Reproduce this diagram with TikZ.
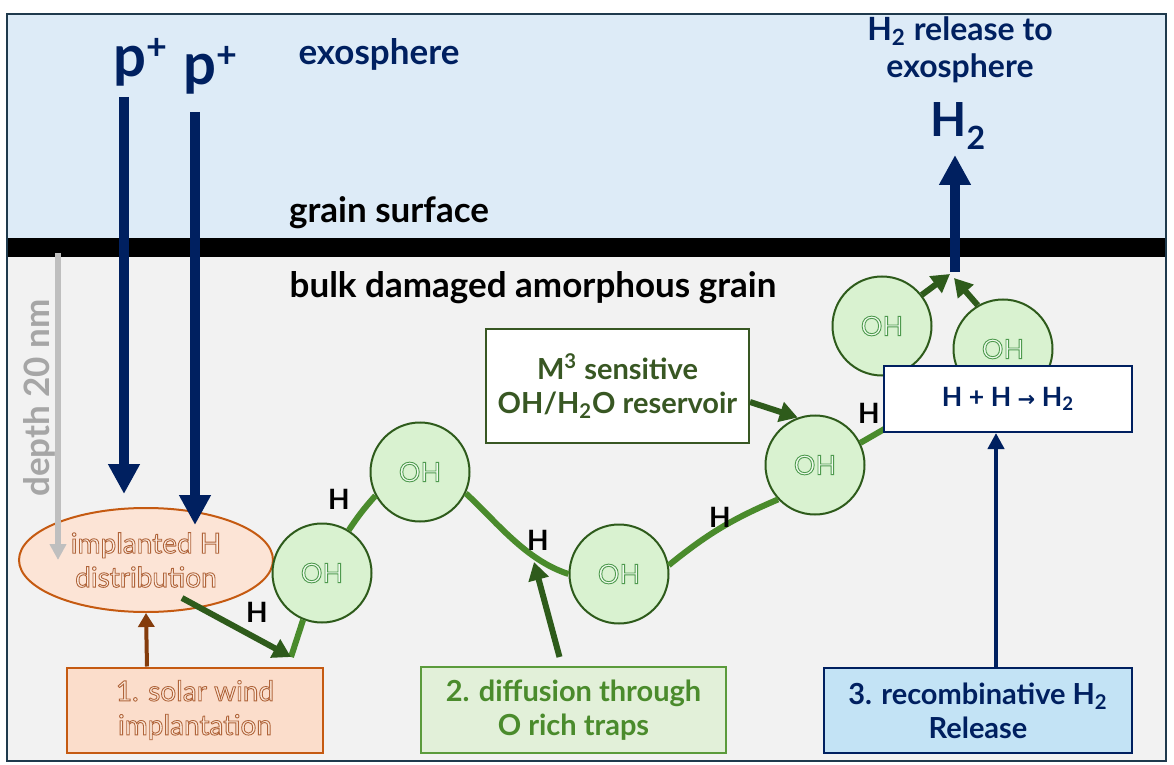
\documentclass[tikz,border=0pt]{standalone}
\usepackage{fontspec}
\setmainfont{Lato}
\newfontfamily\arrowfont{DejaVu Sans}
\usetikzlibrary{arrows.meta,shapes.geometric}
\definecolor{navy}{HTML}{002060}
\definecolor{exobg}{HTML}{DDEBF7}
\definecolor{bulkbg}{HTML}{F2F2F2}
\definecolor{framecol}{HTML}{1F3A4D}
\definecolor{orng}{HTML}{C55A11}
\definecolor{ellfill}{HTML}{FCE4D6}
\definecolor{b1fill}{HTML}{FBDDCB}
\definecolor{brwn}{HTML}{843C0C}
\definecolor{brtext}{HTML}{B0643A}
\definecolor{dkgreen}{HTML}{2E5B1B}
\definecolor{glinec}{HTML}{4A8B2C}
\definecolor{ohfill}{HTML}{D9F2D0}
\definecolor{ohtext}{HTML}{4E9A4E}
\definecolor{mgreen}{HTML}{385723}
\definecolor{b2fill}{HTML}{E2F0D9}
\definecolor{b2border}{HTML}{5B9B3C}
\definecolor{b2text}{HTML}{4A8B2C}
\definecolor{b3fill}{HTML}{C3E3F5}
\definecolor{greyarrow}{HTML}{BFBFBF}
\definecolor{greytext}{HTML}{A6A6A6}
\newcommand{\hollow}[2]{\special{pdf:literal 2 Tr 0.45 w #1 rg}#2\special{pdf:literal 0 Tr}}
\tikzset{
  lbl/.style={font=\bfseries\fontsize{17.5}{21}\selectfont},
  ohc/.style={circle, draw=dkgreen, line width=1pt, fill=ohfill, minimum size=49.5pt, inner sep=0pt,
              font=\fontsize{13.5}{15}\selectfont, text=ohtext},
  hlab/.style={font=\bfseries\fontsize{14}{16}\selectfont, text=black},
  gline/.style={draw=glinec, line width=3pt},
  garrow/.style={draw=dkgreen, line width=3pt, -{Triangle[width=10pt,length=9pt]}},
  navyarrow/.style={draw=navy, line width=5pt, -{Triangle[width=15pt,length=15pt]}},
  boxtext/.style={font=\fontsize{14}{17}\selectfont, align=center, inner sep=0pt},
  boldbox/.style={font=\bfseries\fontsize{14.5}{17}\selectfont},
}
\begin{document}
\begin{tikzpicture}[x=0.5pt,y=-0.5pt]
\useasboundingbox (0,0) rectangle (1174,765);
% background layers
\fill[exobg] (7,14) rectangle (1166,238);
\fill[bulkbg] (7,257) rectangle (1166,761);
\fill[black] (7,238) rectangle (1166,257);
\draw[framecol, line width=1.25pt] (7,14) rectangle (1166,761);

% labels
\node[lbl, text=navy, anchor=base] (exo) at (379,65) {exosphere};
\node[lbl, anchor=base] (gs) at (389,223) {grain surface};
\node[lbl, anchor=base] (bulk) at (533,297) {bulk damaged amorphous grain};
\node[font=\bfseries\fontsize{16}{18.5}\selectfont, text=navy, align=center] (rel) at (960,50)
  {H\textsubscript{2} release to\\exosphere};

% protons
\node[font=\bfseries\fontsize{29}{30}\selectfont, text=navy, anchor=base west, inner sep=0pt] (p1) at (113,77)
  {p\raisebox{8.5pt}{\fontsize{18}{18}\selectfont +}};
\node[font=\bfseries\fontsize{29}{30}\selectfont, text=navy, anchor=base west, inner sep=0pt] (p2) at (183,85)
  {p\raisebox{8.5pt}{\fontsize{18}{18}\selectfont +}};
\coordinate (a1s) at (124,97);
\coordinate (a1e) at (124,494);
\coordinate (a2s) at (195,112);
\coordinate (a2e) at (195,525);

% H2 out
\node[font=\bfseries\fontsize{23.5}{26}\selectfont, text=navy, anchor=base west, inner sep=0pt] (h2) at (930,137)
  {H\raisebox{-6.5pt}{\fontsize{16}{16}\selectfont 2}};
\coordinate (h2base) at (955,272);
\coordinate (h2tip) at (955,155);
\coordinate (h2l) at (950,274);
\coordinate (h2r) at (954,278);

% implanted ellipse and box 1
\node[ellipse, draw=orng, line width=1pt, fill=ellfill, minimum width=127pt, minimum height=52pt,
      boxtext, text=brtext] (impl) at (146,560)
  {\hollow{0.99 0.93 0.89}{implanted H\\distribution}};
\node[draw=orng, line width=1pt, fill=b1fill, minimum width=128pt, minimum height=42.5pt,
      boxtext, text=brtext] (b1) at (195,710)
  {\hollow{0.99 0.91 0.85}{1. solar wind\\implantation}};

% depth
\coordinate (ds) at (58,253);
\coordinate (de) at (58,560);
\draw[draw=greyarrow, line width=2.8pt, -{Triangle[width=8pt,length=8pt]}] (ds) -- (de);
\node[font=\bfseries\fontsize{17.5}{20}\selectfont, text=greytext, rotate=90] (depth) at (39,398) {depth 20 nm};

% proton arrows (over band)
\draw[navyarrow] (a1s) -- (a1e);
\draw[navyarrow] (a2s) -- (a2e);

% OH circles
\node[ohc] (c1) at (322,573) {\hollow{0.94 0.98 0.93}{OH}};
\node[ohc] (c2) at (420,472) {\hollow{0.94 0.98 0.93}{OH}};
\node[ohc] (c3) at (619,574) {\hollow{0.94 0.98 0.93}{OH}};
\node[ohc] (c4) at (815,465) {\hollow{0.94 0.98 0.93}{OH}};
\node[ohc] (c5) at (882,326) {\hollow{0.94 0.98 0.93}{OH}};
\node[ohc] (c6) at (1003,349) {\hollow{0.94 0.98 0.93}{OH}};

% diffusion path
\coordinate (j1) at (291,657);
\coordinate (hhin) at (900,420);
\draw[gline] (j1) -- (c1.248);
\draw[gline] (c1.58) to[bend left=4] (c2.208);
\draw[gline] (c2.-25) .. controls (495,520) and (525,560) .. (c3.180);
\draw[gline] (c3.10) to[bend left=8] (c4.223);
\draw[gline] (c4.26) -- (hhin);

% arrows green
\coordinate (eo) at (182,598);
\draw[garrow] (eo) -- (j1);
\coordinate (trap) at (534,562);

% boxes
\node[draw=mgreen, line width=1pt, fill=white, minimum width=131.5pt, minimum height=57pt,
      boxtext, boldbox, text=mgreen] (m3) at (617.5,386)
  {M\textsuperscript{3} sensitive\\OH/H\textsubscript{2}O reservoir};
\draw[garrow] ([yshift=-8pt]m3.east) -- (c4.110);

\node[draw=navy, line width=1pt, fill=white, minimum width=124pt, minimum height=33pt,
      boxtext, font=\bfseries\fontsize{13.3}{15}\selectfont, text=navy] (hh) at (1008,399)
  {H + H {\arrowfont\fontsize{10.5}{12}\selectfont →} H\textsubscript{2}};

\node[draw=b2border, line width=1pt, fill=b2fill, minimum width=152.5pt, minimum height=43pt,
      boxtext, boldbox, text=b2text] (b2) at (573.5,710)
  {2. diffusion through\\O rich traps};
\node[draw=navy, line width=1pt, fill=b3fill, minimum width=154pt, minimum height=42.5pt,
      boxtext, boldbox, text=navy] (b3) at (978,710.5)
  {3. recombinative H\textsubscript{2}\\Release};

\draw[garrow] ([xshift=-7pt,yshift=4.5pt]b2.north) -- (trap);
\draw[draw=brwn, line width=2pt, -{Triangle[width=8pt,length=7pt]}] ([xshift=-24pt]b1.north) -- (impl.south);
\draw[draw=navy, line width=2.4pt, -{Triangle[width=8pt,length=8pt]}] ([xshift=9pt]b3.north) -- ([xshift=9pt]b3.north |- hh.south);

% H2 release arrows
\draw[garrow] (c5.38) -- (h2l);
\draw[garrow] (c6.120) -- (h2r);
\draw[navyarrow] (h2base) -- (h2tip);

% H labels
\node[hlab] (hA) at (339,499) {H};
\node[hlab] (hB) at (257,612) {H};
\node[hlab] (hC) at (538,540) {H};
\node[hlab] (hD) at (720,517) {H};
\node[hlab] (hE) at (869,413) {H};
\end{tikzpicture}
\end{document}
